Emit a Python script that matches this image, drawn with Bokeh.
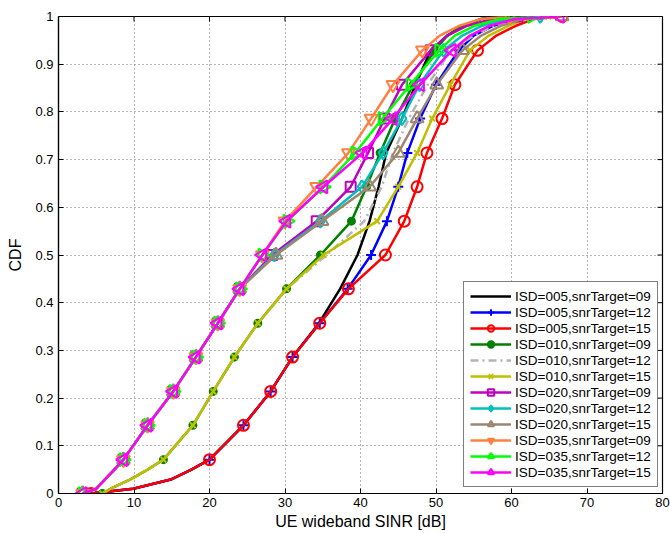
import math
from bokeh.plotting import figure
from bokeh.models import FixedTicker, Range1d, Legend, LegendItem
from bokeh.embed import file_html
from bokeh.resources import INLINE

# ---------------- data ----------------
# CDF levels at which the curves were read
Y_LEVELS = [0, 0.01, 0.03, 0.05, 0.071, 0.143, 0.214, 0.286, 0.357, 0.429, 0.5,
            0.571, 0.643, 0.714, 0.786, 0.857, 0.929, 0.96, 0.98, 0.995, 1.0]
# CDF levels carrying a marker
MARK_LEVELS = [0, 0.071, 0.143, 0.214, 0.286, 0.357, 0.429, 0.5, 0.571, 0.643,
               0.714, 0.786, 0.857, 0.929, 1.0]

isd005_snr09 = [4.3, 9.9, 15.0, 17.6, 20.0, 24.5, 28.1, 31.0, 34.5, 37.3, 39.6,
                41.2, 42.4, 43.4, 45.5, 47.3, 49.3, 51.5, 53.5, 56.0, 58.0]
isd005_snr12 = [4.3, 9.9, 15.0, 17.6, 20.0, 24.5, 28.1, 31.0, 34.6, 38.3, 41.4,
                43.5, 45.0, 46.2, 47.9, 50.0, 53.0, 55.0, 57.5, 60.5, 64.0]
isd005_snr15 = [4.3, 9.9, 15.0, 17.6, 20.0, 24.5, 28.1, 31.0, 34.6, 38.4, 43.3,
                45.8, 47.5, 48.8, 50.8, 52.5, 55.5, 58.0, 60.5, 63.0, 66.7]
isd010_snr09 = [5.8, 6.9, 9.6, 11.8, 13.9, 17.8, 20.5, 23.3, 26.4, 30.2, 34.7,
                38.8, 40.8, 42.6, 44.6, 47.0, 49.8, 51.5, 53.5, 56.0, 58.7]
isd010_snr12 = [5.8, 6.9, 9.6, 11.8, 13.9, 17.8, 20.5, 23.3, 26.4, 30.2, 35.5,
                40.5, 42.8, 44.3, 46.4, 48.9, 52.0, 55.0, 57.5, 60.5, 64.0]
isd010_snr15 = [5.8, 6.9, 9.6, 11.8, 13.9, 17.8, 20.5, 23.3, 26.4, 30.2, 35.1,
                42.2, 45.0, 47.5, 49.5, 51.9, 54.5, 57.0, 59.5, 62.0, 64.9]
isd020_snr09 = [3.2, 5.0, 6.2, 7.4, 8.6, 11.8, 15.2, 18.2, 21.1, 24.0, 28.3,
                34.2, 38.7, 41.0, 43.2, 45.5, 49.3, 51.5, 54.0, 57.5, 60.8]
isd020_snr12 = [3.2, 5.0, 6.2, 7.4, 8.6, 11.8, 15.2, 18.2, 21.1, 24.0, 28.6,
                34.7, 40.2, 43.0, 45.5, 47.8, 51.0, 53.5, 56.0, 59.5, 63.8]
isd020_snr15 = [3.2, 5.0, 6.2, 7.4, 8.6, 11.8, 15.2, 18.2, 21.1, 24.0, 28.8,
                34.9, 41.2, 45.0, 47.5, 50.1, 53.5, 56.0, 58.5, 61.5, 66.7]
isd035_snr09 = [3.2, 5.0, 6.2, 7.4, 8.6, 11.8, 15.2, 18.2, 21.1, 24.0, 27.0,
                30.0, 34.2, 38.4, 41.4, 44.3, 48.2, 50.5, 53.0, 56.0, 59.8]
isd035_snr12 = [3.2, 5.0, 6.2, 7.4, 8.6, 11.8, 15.2, 18.2, 21.1, 24.0, 27.0,
                30.3, 35.1, 39.3, 42.9, 46.6, 50.4, 52.5, 55.0, 58.5, 62.7]
isd035_snr15 = [3.2, 5.0, 6.2, 7.4, 8.6, 11.8, 15.2, 18.2, 21.1, 24.0, 27.0,
                30.2, 35.1, 40.3, 44.3, 47.9, 52.1, 54.5, 57.0, 60.5, 66.4]

LABELS = ["ISD=005,snrTarget=09", "ISD=005,snrTarget=12", "ISD=005,snrTarget=15",
          "ISD=010,snrTarget=09", "ISD=010,snrTarget=12", "ISD=010,snrTarget=15",
          "ISD=020,snrTarget=09", "ISD=020,snrTarget=12", "ISD=020,snrTarget=15",
          "ISD=035,snrTarget=09", "ISD=035,snrTarget=12", "ISD=035,snrTarget=15"]
SERIES = [isd005_snr09, isd005_snr12, isd005_snr15,
          isd010_snr09, isd010_snr12, isd010_snr15,
          isd020_snr09, isd020_snr12, isd020_snr15,
          isd035_snr09, isd035_snr12, isd035_snr15]

X_MIN, X_MAX = 0, 80
Y_MIN, Y_MAX = 0, 1
X_TICKS = [0, 10, 20, 30, 40, 50, 60, 70, 80]
Y_TICKS = [0, 0.1, 0.2, 0.3, 0.4, 0.5, 0.6, 0.7, 0.8, 0.9, 1]
Y_TICK_LABELS = ["0", "0.1", "0.2", "0.3", "0.4", "0.5", "0.6", "0.7", "0.8", "0.9", "1"]

# ---------------- styles ----------------
COLORS = ["#000000", "#0000ff", "#ff0000", "#008000", "#b4b4b4", "#bfbf00",
          "#bf00bf", "#00bfbf", "#9c8670", "#ff8040", "#00ff00", "#ff00ff"]
# (marker, size, angle, filled)
MARKERS = [None, ("cross", 10, 0, False), ("circle", 11, 0, False),
           ("circle", 7, 0, True), None, ("x", 8, 0, False),
           ("square", 10, 0, False), ("diamond", 13, 0, False),
           ("triangle", 13, 0, False), ("inverted_triangle", 13, 0, False),
           ("triangle", 13, -math.pi / 2, False), ("triangle", 13, math.pi / 2, False)]
DASHES = ["solid"] * 4 + ["8 4 2 4"] + ["solid"] * 7

FONT = "Liberation Sans"

p = figure(width=670, height=533, output_backend="svg", toolbar_location=None,
           x_range=Range1d(X_MIN, X_MAX), y_range=Range1d(Y_MIN, Y_MAX),
           min_border_left=58, min_border_right=8, min_border_top=16,
           min_border_bottom=40)
p.background_fill_color = "white"
p.border_fill_color = "white"
p.outline_line_color = "black"
p.outline_line_width = 1.2

# axes
for ax, ticks in ((p.xaxis[0], X_TICKS), (p.yaxis[0], Y_TICKS)):
    ax.ticker = FixedTicker(ticks=ticks)
    ax.major_tick_in = 5
    ax.major_tick_out = 0
    ax.minor_tick_in = 0
    ax.minor_tick_out = 0
    ax.axis_line_color = "black"
    ax.axis_line_width = 1.2
    ax.major_tick_line_color = "black"
    ax.major_label_text_font = FONT
    ax.major_label_text_font_size = "13px"
    ax.major_label_text_color = "black"
    ax.axis_label_text_font = FONT
    ax.axis_label_text_font_size = "16px"
    ax.axis_label_text_font_style = "normal"
    ax.axis_label_text_color = "black"

p.xaxis[0].axis_label = "UE wideband SINR [dB]"
p.xaxis[0].major_label_standoff = 4
p.xaxis[0].axis_label_standoff = 3
p.yaxis[0].axis_label = "CDF"
p.yaxis[0].major_label_standoff = 5
p.yaxis[0].axis_label_standoff = 8
p.yaxis[0].major_label_overrides = {t: lab for t, lab in zip(Y_TICKS, Y_TICK_LABELS)}

p.xgrid.ticker = FixedTicker(ticks=X_TICKS)
p.ygrid.ticker = FixedTicker(ticks=Y_TICKS)
for g in (p.xgrid[0], p.ygrid[0]):
    g.grid_line_color = "#6e6e6e"
    g.grid_line_dash = "1 3"
    g.grid_line_width = 1

# inward tick marks on the top and right edges of the box (MATLAB "box on")
p.scatter(X_TICKS, [Y_MAX] * len(X_TICKS), marker="dash", size=10, angle=math.pi / 2,
          line_color="black", line_width=1)
p.scatter([X_MAX] * len(Y_TICKS), Y_TICKS, marker="dash", size=10, angle=0,
          line_color="black", line_width=1)

items = []
for xs, lab, col, mk, dash in zip(SERIES, LABELS, COLORS, MARKERS, DASHES):
    rends = []
    lr = p.line(xs, Y_LEVELS, line_color=col, line_width=2.5, line_dash=dash)
    rends.append(lr)
    if mk is not None:
        name, size, angle, filled = mk
        mx = [x for x, y in zip(xs, Y_LEVELS) if y in MARK_LEVELS]
        my = [y for y in Y_LEVELS if y in MARK_LEVELS]
        sr = p.scatter(mx, my, marker=name, size=size, angle=angle,
                       line_color=col, line_width=2,
                       fill_color=col if filled else None,
                       fill_alpha=1.0 if filled else 0.0)
        rends.append(sr)
    items.append(LegendItem(label=lab, renderers=rends))

legend = Legend(items=items, location=(405, 6))
legend.label_text_font = FONT
legend.label_text_font_size = "13.5px"
legend.label_text_color = "black"
legend.label_height = 16
legend.label_standoff = 4
legend.glyph_width = 41
legend.glyph_height = 16
legend.spacing = 0
legend.padding = 6
legend.margin = 0
legend.border_line_color = "black"
legend.border_line_width = 1.2
legend.background_fill_color = "white"
legend.background_fill_alpha = 1.0
p.add_layout(legend, "center")

open("out.html", "w").write(file_html(p, INLINE))
